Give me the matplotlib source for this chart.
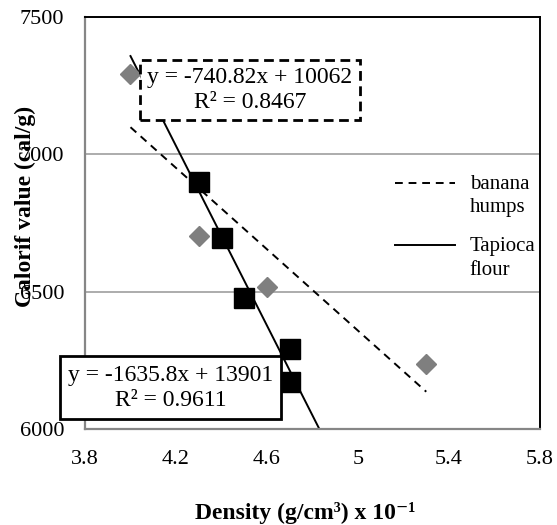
import matplotlib
matplotlib.use("Agg")
import matplotlib.pyplot as plt
from matplotlib.legend_handler import HandlerLine2D
from matplotlib.ticker import FuncFormatter
import numpy as np

plt.rcParams["font.family"] = ["Liberation Serif", "DejaVu Serif"]

# data
banana_density = [4.0, 4.3, 4.6, 5.3]
banana_calorif = [7292, 6704, 6518, 6237]
tapioca_density = [4.3, 4.4, 4.5, 4.7, 4.7]
tapioca_calorif = [6901, 6697, 6478, 6292, 6172]

# linear trendlines as printed on the chart (slope, intercept, R^2)
banana_fit = (-740.82, 10062, 0.8467)
tapioca_fit = (-1635.8, 13901, 0.9611)
banana_trend_x = [4.0, 5.3]
tapioca_trend_x = [4.0, 4.9]

x_ticks = [3.8, 4.2, 4.6, 5.0, 5.4, 5.8]
y_ticks = [6000, 6500, 7000, 7500]


class TopLineHandler(HandlerLine2D):
    """Put the legend line next to the first line of a two-line label."""

    def create_artists(self, legend, orig_handle, xdescent, ydescent,
                       width, height, fontsize, trans):
        artists = super().create_artists(legend, orig_handle, xdescent, ydescent,
                                         width, height, fontsize, trans)
        for a in artists:
            a.set_ydata(np.asarray(a.get_ydata()) + 0.62 * fontsize)
        return artists


fig = plt.figure(figsize=(5.57, 5.25), dpi=100)
ax = fig.add_axes([0.1526, 0.1829, 0.8169, 0.7847])

# trendlines
xb = np.array(banana_trend_x)
ax.plot(xb, banana_fit[0] * xb + banana_fit[1], color="black", lw=1.4,
        dashes=(4, 3), label="banana\nhumps", zorder=2)
xt = np.array(tapioca_trend_x)
ax.plot(xt, tapioca_fit[0] * xt + tapioca_fit[1], color="black", lw=1.4,
        label="Tapioca\nflour", zorder=2)

# points
ax.plot(banana_density, banana_calorif, ls="none", marker="D", ms=9.7,
        color="#7f7f7f", mec="#7f7f7f", zorder=3)
ax.plot(tapioca_density, tapioca_calorif, ls="none", marker="s", ms=14.5,
        color="black", zorder=3)

ax.set_xlim(3.8, 5.8)
ax.set_ylim(6000, 7500)
ax.set_xticks(x_ticks)
ax.set_yticks(y_ticks)
ax.xaxis.set_major_formatter(FuncFormatter(lambda v, _: f"{v:g}"))
ax.tick_params(axis="both", length=0, labelsize=16)
ax.tick_params(axis="y", pad=15)
ax.tick_params(axis="x", pad=15)
ax.grid(True, axis="y", color="#a6a6a6", lw=1.3)
ax.set_axisbelow(True)

for side in ("left", "bottom"):
    ax.spines[side].set_color("#868686")
    ax.spines[side].set_linewidth(1.6)
for side in ("top", "right"):
    ax.spines[side].set_color("black")
    ax.spines[side].set_linewidth(1.4)

# trendline equation boxes
ax.text(4.525, 7234,
        f"y = {banana_fit[0]:.2f}x + {banana_fit[1]}\nR² = {banana_fit[2]:.4f}",
        ha="center", va="center", fontsize=17, linespacing=1.2, zorder=5,
        bbox=dict(boxstyle="square,pad=0.32", fc="white", ec="black",
                  lw=2.0, ls=(0, (3.5, 2))))
ax.text(4.176, 6151,
        f"y = {tapioca_fit[0]:.1f}x + {tapioca_fit[1]}\nR² = {tapioca_fit[2]:.4f}",
        ha="center", va="center", fontsize=17, linespacing=1.25, zorder=5,
        clip_on=False,
        bbox=dict(boxstyle="square,pad=0.35", fc="white", ec="black", lw=2.0))

leg = ax.legend(loc="upper left", bbox_to_anchor=(0.681, 0.617), frameon=False,
                fontsize=15, handlelength=2.9, handletextpad=0.7,
                labelspacing=0.98, borderpad=0, borderaxespad=0,
                handler_map={matplotlib.lines.Line2D: TopLineHandler()})
for t in leg.get_texts():
    t.set_linespacing(1.3)

fig.text(25 / 557, 1 - 206 / 525, "Calorif value (cal/g)", rotation=90,
         ha="center", va="center", fontsize=17, fontweight="bold")
fig.text(305 / 557, 1 - 513 / 525, "Density (g/cm³) x 10⁻¹",
         ha="center", va="center", fontsize=17, fontweight="bold")

fig.savefig("out.png", dpi=100)
